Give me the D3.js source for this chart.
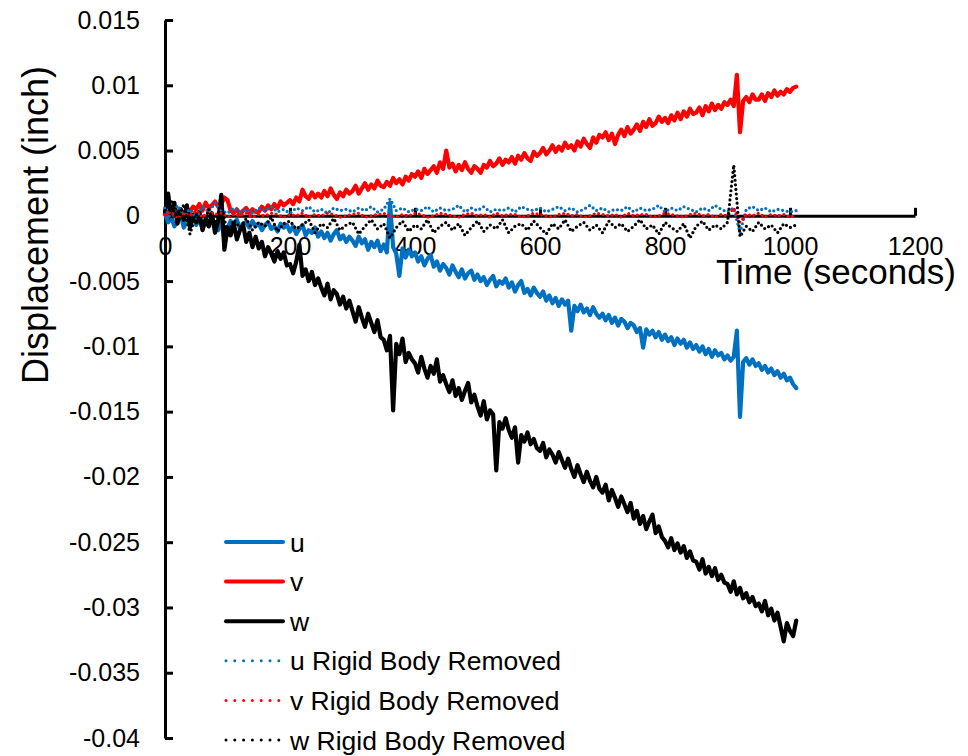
<!DOCTYPE html>
<html>
<head>
<meta charset="utf-8">
<script src="https://cdn.jsdelivr.net/npm/d3@7"></script>
<style>
  body { margin: 0; background: #fff; }
  text { font-family: "Liberation Sans", Arial, sans-serif; }
</style>
</head>
<body>
<svg width="968" height="756"></svg>
<script>
// sample times (seconds) for u, v, w
var time = [0,5,10,15,20,25,30,35,40,45,50,55,60,65,70,75,80,85,90,95,
  100,105,110,115,120,125,130,135,140,145,150,155,160,165,170,175,180,185,190,195,
  200,205,210,215,220,225,230,235,240,245,250,255,260,265,270,275,280,285,290,295,
  300,305,310,315,320,325,330,335,340,345,350,355,360,365,370,375,380,385,390,395,
  400,405,410,415,420,425,430,435,440,445,450,455,460,465,470,475,480,485,490,495,
  500,505,510,515,520,525,530,535,540,545,550,555,560,565,570,575,580,585,590,595,
  600,605,610,615,620,625,630,635,640,645,650,655,660,665,670,675,680,685,690,695,
  700,705,710,715,720,725,730,735,740,745,750,755,760,765,770,775,780,785,790,795,
  800,805,810,815,820,825,830,835,840,845,850,855,860,865,870,875,880,885,890,895,
  900,905,910,915,920,925,930,935,940,945,950,955,960,965,970,975,980,985,990,995,
  1000,1005,1010];

// sample times (seconds) for the rigid-body-removed series
var timeRigid = [0,10,20,30,40,50,60,70,80,90,100,110,120,130,140,150,160,170,180,190,
  200,210,220,230,240,250,260,270,280,290,300,310,320,330,340,350,360,370,380,390,
  400,410,420,430,440,450,460,470,480,490,500,510,520,530,540,550,560,570,580,590,
  600,610,620,630,640,650,660,670,680,690,700,710,720,730,740,750,760,770,780,790,
  800,810,820,830,840,850,860,870,880,890,900,910,920,930,940,950,960,970,980,990,
  1000,1010];

// displacements in mils (0.001 inch)
var u = [0.2,-0.5,-0.1,-0.8,-0.3,0.1,-0.9,-0.4,-0.6,0.0,
  -0.7,-0.2,-1.0,-0.4,-0.8,-0.3,-0.6,-1.1,-0.2,-1.9,
  -0.9,-0.4,-0.7,-0.3,-1.0,-0.6,-0.5,-0.9,-0.4,-0.8,
  -0.6,-1.1,-0.7,-0.5,-1.0,-0.8,-1.2,-0.6,-0.9,-0.7,
  -1.2,-0.8,-1.4,-1.0,-0.7,-1.5,-1.1,-1.3,-0.9,-1.6,
  -1.2,-1.7,-1.3,-1.9,-1.4,-1.1,-1.8,-1.5,-2.0,-1.6,
  -1.9,-2.3,-1.6,-2.1,-1.8,-2.6,-2.0,-2.4,-1.9,-2.7,
  -2.2,-2.8,1.0,-2.4,-2.9,-4.6,-2.5,-3.2,-2.6,-3.1,
  -2.8,-3.5,-3.1,-3.8,-3.3,-3.0,-3.9,-3.5,-4.2,-3.7,
  -4.0,-4.5,-3.8,-4.3,-4.7,-4.1,-4.8,-4.4,-4.2,-4.9,
  -4.5,-5.0,-4.7,-5.3,-4.9,-4.6,-5.4,-5.0,-5.2,-4.8,
  -5.5,-5.1,-5.8,-5.3,-5.0,-5.9,-5.6,-6.1,-5.5,-5.9,
  -6.2,-5.8,-6.5,-6.1,-6.7,-6.3,-6.9,-6.4,-6.8,-6.5,
  -8.8,-6.9,-7.3,-6.8,-7.4,-7.1,-7.6,-7.0,-7.5,-7.8,
  -7.5,-8.0,-7.6,-8.2,-7.8,-8.4,-7.9,-8.1,-8.6,-8.2,
  -8.4,-8.9,-8.6,-10.1,-8.7,-9.1,-8.8,-9.3,-8.9,-9.5,
  -9.1,-9.6,-9.3,-9.9,-9.4,-9.8,-9.5,-10.1,-9.7,-10.2,
  -9.9,-10.4,-10.0,-10.6,-10.2,-10.8,-10.3,-10.7,-10.5,-11.0,
  -10.7,-11.1,-10.8,-8.8,-15.4,-11.2,-10.9,-11.4,-11.0,-11.5,
  -11.3,-11.8,-11.5,-12.0,-11.7,-12.2,-11.9,-12.4,-12.1,-12.6,
  -12.4,-12.9,-13.2];
var v = [0.1,0.3,-0.1,0.4,0.2,0.5,0.0,0.6,0.3,0.7,
  0.5,0.9,0.4,1.0,0.6,0.8,1.1,0.7,0.9,1.4,
  1.2,0.4,0.2,0.5,0.1,0.4,0.6,0.2,0.5,0.3,
  0.3,0.7,0.4,0.8,0.5,0.9,0.6,1.1,0.8,1.0,
  1.2,0.9,1.4,1.1,2.0,1.5,1.3,1.8,1.4,1.7,
  1.4,1.9,1.5,2.1,1.6,1.3,1.8,1.5,2.0,1.7,
  1.9,2.3,1.7,2.1,2.5,2.0,2.4,2.1,2.7,2.3,
  2.2,2.6,2.3,2.9,2.5,2.8,2.4,3.0,2.7,3.2,
  3.0,3.4,2.9,3.6,3.2,3.5,3.8,3.3,4.1,3.6,
  5.0,3.7,4.0,3.4,3.9,3.5,4.1,3.6,3.3,3.8,
  3.6,3.3,3.9,3.7,4.2,3.8,4.0,4.4,3.9,4.3,
  4.1,4.5,4.0,4.6,4.3,4.8,4.4,4.2,4.9,4.6,
  4.8,5.2,4.7,5.0,5.4,4.9,5.3,5.0,5.6,5.2,
  5.4,5.0,5.7,5.3,5.9,5.5,5.2,6.0,5.6,6.2,
  6.0,6.4,5.8,6.3,5.5,6.2,6.6,6.1,6.8,6.3,
  6.6,7.0,6.5,7.2,6.8,7.4,6.9,7.1,7.6,7.2,
  7.5,7.1,7.7,7.3,7.9,7.4,8.0,7.6,8.2,7.8,
  7.9,8.3,7.7,8.4,8.0,8.6,8.1,8.5,8.2,8.7,
  8.5,8.9,8.4,10.8,6.4,8.8,9.1,8.7,9.3,8.9,
  8.9,9.3,8.8,9.4,9.1,9.6,9.2,9.5,9.3,9.7,
  9.5,9.8,9.9];
var w = [0.3,1.7,-0.2,1.0,-0.6,0.5,-0.3,0.8,-0.9,0.1,
  -0.5,0.3,-1.1,-0.2,-0.8,0.2,-1.3,-0.4,1.6,-2.6,
  -0.9,-1.5,-0.6,-1.8,-1.1,-0.7,-2.0,-1.3,-2.4,-1.6,
  -2.5,-2.0,-3.1,-2.4,-2.9,-3.5,-2.7,-3.3,-2.8,-3.8,
  -3.7,-4.4,-3.5,-2.2,-4.6,-4.1,-5.0,-4.3,-5.3,-4.8,
  -5.5,-6.1,-5.2,-6.4,-5.7,-6.0,-6.8,-6.2,-7.1,-6.5,
  -7.3,-8.1,-7.0,-7.8,-8.5,-7.5,-8.2,-8.9,-8.0,-9.3,
  -9.5,-10.3,-9.2,-14.9,-9.8,-10.6,-9.4,-11.2,-10.5,-11.0,
  -11.3,-12.0,-10.8,-11.7,-12.4,-11.5,-12.1,-11.0,-12.7,-12.2,
  -12.9,-13.5,-12.6,-13.8,-13.2,-14.1,-13.4,-12.8,-14.3,-13.7,
  -14.6,-15.3,-14.2,-15.6,-14.9,-15.2,-19.5,-15.8,-16.3,-15.5,
  -16.4,-17.0,-16.2,-18.9,-16.8,-17.3,-16.6,-17.5,-17.1,-17.8,
  -18.0,-17.4,-18.5,-17.9,-18.3,-18.9,-18.1,-18.7,-19.3,-18.6,
  -19.4,-20.0,-19.1,-19.8,-20.4,-19.6,-20.3,-20.8,-20.0,-20.9,
  -21.2,-20.6,-21.8,-21.0,-21.6,-22.3,-21.5,-22.1,-22.7,-22.0,
  -23.2,-22.6,-23.6,-23.0,-24.0,-23.4,-22.9,-24.3,-23.8,-24.6,
  -24.9,-25.4,-24.7,-25.6,-25.1,-25.8,-25.3,-26.2,-25.7,-26.4,
  -26.5,-27.1,-26.3,-27.4,-26.9,-27.6,-27.0,-27.9,-27.5,-28.1,
  -28.2,-28.8,-28.0,-29.0,-28.5,-29.3,-28.9,-29.6,-29.2,-29.9,
  -29.7,-30.3,-29.5,-30.6,-30.1,-31.0,-30.4,-31.5,-32.6,-31.2,
  -31.8,-32.2,-31.0];
var uRigid = [0.6,-0.3,0.8,0.1,0.5,-0.2,0.7,0.3,1.0,0.4,
  0.2,0.6,0.3,0.5,0.2,0.6,0.4,0.7,0.3,0.5,
  0.2,0.6,0.4,0.7,0.3,0.5,0.2,0.6,0.4,0.5,
  0.3,0.6,0.4,0.7,0.3,0.5,1.3,0.4,0.6,0.3,
  0.5,0.4,0.7,0.3,0.6,0.4,0.5,0.8,0.3,0.6,
  0.4,0.7,0.3,0.5,0.4,0.6,0.3,0.7,0.5,0.4,
  0.6,0.3,0.5,0.7,0.4,0.6,0.3,0.5,0.8,0.4,
  0.6,0.3,0.5,0.4,0.7,0.3,0.6,0.4,0.5,0.8,
  0.3,0.6,0.4,0.7,0.5,0.3,0.6,0.4,0.8,0.5,
  0.3,0.6,-1.3,0.5,0.7,0.4,0.6,0.3,0.5,0.4,
  0.3,0.4];
var vRigid = [0.1,0.3,-0.2,0.2,0.0,0.4,-0.1,0.3,0.1,0.2,
  -0.1,0.1,0.0,0.2,-0.1,0.1,0.0,0.2,0.1,-0.1,
  0.1,0.0,0.2,-0.1,0.1,0.0,0.2,0.1,-0.1,0.0,
  0.1,0.2,-0.1,0.0,0.1,0.2,0.0,-0.1,0.1,0.0,
  0.2,0.1,-0.1,0.0,0.2,0.1,0.0,-0.1,0.1,0.2,
  0.0,0.1,-0.1,0.2,0.0,0.1,0.1,-0.1,0.0,0.2,
  0.1,0.0,-0.1,0.1,0.2,0.0,0.1,-0.1,0.0,0.2,
  0.1,0.0,0.1,-0.1,0.2,0.0,0.1,0.1,-0.1,0.0,
  0.2,0.1,0.0,-0.1,0.1,0.2,0.0,0.1,-0.1,0.1,
  0.0,0.6,-0.5,0.1,0.0,0.2,-0.1,0.1,0.0,0.1,
  -0.1,0.1];
var wRigid = [0.4,1.2,-0.6,0.9,-1.4,0.2,-1.0,0.5,-0.8,1.1,
  -1.5,-0.3,-0.9,-0.2,-1.1,-0.5,-0.8,-0.1,-1.2,-0.6,
  -0.4,-1.0,-0.7,-0.3,-1.3,-0.6,-0.9,-0.2,-1.1,-0.7,
  -0.5,-1.4,-0.8,-0.3,-1.0,-0.6,-1.7,-0.9,-0.4,-1.2,
  -0.7,-1.0,-0.3,-1.3,-0.8,-0.5,-1.1,-0.6,-1.5,-0.9,
  -0.4,-1.2,-0.7,-1.0,-0.3,-1.3,-0.8,-0.6,-1.1,-0.4,
  -0.9,-1.4,-0.6,-1.0,-0.3,-1.2,-0.8,-0.5,-1.1,-0.7,
  -1.3,-0.4,-0.9,-0.6,-1.2,-0.8,-0.3,-1.0,-0.7,-1.4,
  -0.5,-0.9,-1.2,-0.6,-1.7,-0.8,-0.4,-1.1,-0.7,-1.0,
  -0.5,3.9,-1.6,-0.8,-1.2,-0.5,-1.0,-0.7,-1.3,-0.6,
  -0.9,-0.7];

var names = ["u", "v", "w", "u Rigid Body Removed", "v Rigid Body Removed", "w Rigid Body Removed"];
var values = [u, v, w, uRigid, vRigid, wRigid];
var times = [time, time, time, timeRigid, timeRigid, timeRigid];
var colors = ["#0070C0", "#FF0000", "#000000", "#0070C0", "#FF0000", "#000000"];
var dotted = [false, false, false, true, true, true];

var xTicks = [0, 200, 400, 600, 800, 1000, 1200];
var yTicks = [0.015, 0.01, 0.005, 0, -0.005, -0.01, -0.015, -0.02, -0.025, -0.03, -0.035, -0.04];
var yLabels = ["0.015", "0.01", "0.005", "0", "-0.005", "-0.01", "-0.015", "-0.02", "-0.025", "-0.03", "-0.035", "-0.04"];

const svg = d3.select("svg");

const x = d3.scaleLinear().domain([0, 1200]).range([165, 915]);
const y = d3.scaleLinear().domain([-0.04, 0.015]).range([738, 20]);

// axes first, the series sit on top of them
svg.append("g")
  .attr("transform", "translate(165,0)")
  .call(d3.axisLeft(y)
    .tickValues(yTicks)
    .tickFormat(function (d, i) { return yLabels[i]; })
    .tickSizeInner(-8)
    .tickSizeOuter(0)
    .tickPadding(25));

svg.append("g")
  .attr("transform", "translate(0," + y(0) + ")")
  .call(d3.axisBottom(x)
    .tickValues(xTicks)
    .tickFormat(d3.format("d"))
    .tickSizeInner(-8)
    .tickSizeOuter(0)
    .tickPadding(21));

svg.selectAll(".domain, .tick line")
  .attr("stroke", "#000")
  .attr("stroke-width", 3);
svg.selectAll(".tick text")
  .attr("fill", "#000")
  .attr("font-size", 25)
  .attr("font-family", "Liberation Sans, Arial, sans-serif");

// series
svg.append("g")
  .selectAll("path")
  .data(values)
  .enter()
  .append("path")
  .attr("d", function (d, k) {
    return d3.line()
      .x(function (p, i) { return x(times[k][i]); })
      .y(function (p) { return y(p / 1000); })(d);
  })
  .attr("fill", "none")
  .attr("stroke", function (d, i) { return colors[i]; })
  .attr("stroke-width", function (d, i) { return dotted[i] ? 3.2 : 4.2; })
  .attr("stroke-linejoin", "round")
  .attr("stroke-linecap", "round")
  .attr("stroke-dasharray", function (d, i) { return dotted[i] ? "0 4.6" : null; });

// axis titles
svg.append("text")
  .attr("x", 716)
  .attr("y", 284)
  .attr("font-size", 35)
  .text("Time (seconds)");

svg.append("text")
  .attr("transform", "translate(48,225) rotate(-90)")
  .attr("text-anchor", "middle")
  .attr("font-size", 36)
  .text("Displacement (inch)");

// legend
const legend = svg.append("g")
  .selectAll("g")
  .data(names)
  .enter()
  .append("g")
  .attr("transform", function (d, i) { return "translate(0," + (542 + i * 39.6) + ")"; });

legend.append("line")
  .attr("x1", 226)
  .attr("x2", function (d, i) { return dotted[i] ? 279 : 283; })
  .attr("stroke", function (d, i) { return colors[i]; })
  .attr("stroke-width", function (d, i) { return dotted[i] ? 3 : 4; })
  .attr("stroke-linecap", "round")
  .attr("stroke-dasharray", function (d, i) { return dotted[i] ? "0 8.8" : null; });

legend.append("text")
  .attr("x", 290)
  .attr("dy", "0.36em")
  .attr("font-size", 26.5)
  .text(function (d) { return d; });
</script>
</body>
</html>
